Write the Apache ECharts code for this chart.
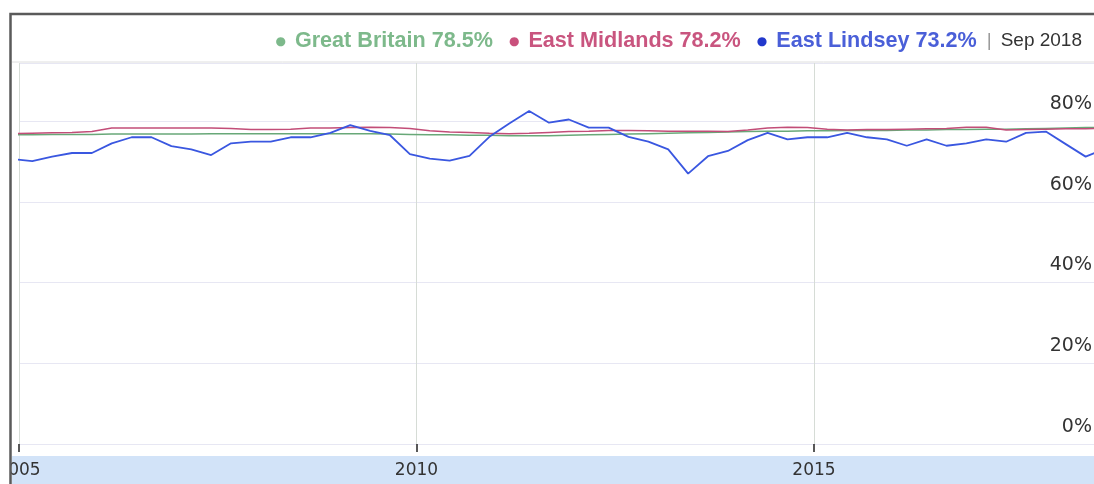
<!DOCTYPE html>
<html><head><meta charset="utf-8">
<script src="https://cdn.jsdelivr.net/npm/echarts@6/dist/echarts.min.js"></script>
<style>html,body{margin:0;padding:0;background:#fff}#c{width:1094px;height:484px}</style>
</head><body><div id="c"></div>
<script>
const quarters = [
  'Dec 2004',
  'Mar 2005','Jun 2005','Sep 2005','Dec 2005',
  'Mar 2006','Jun 2006','Sep 2006','Dec 2006',
  'Mar 2007','Jun 2007','Sep 2007','Dec 2007',
  'Mar 2008','Jun 2008','Sep 2008','Dec 2008',
  'Mar 2009','Jun 2009','Sep 2009','Dec 2009',
  'Mar 2010','Jun 2010','Sep 2010','Dec 2010',
  'Mar 2011','Jun 2011','Sep 2011','Dec 2011',
  'Mar 2012','Jun 2012','Sep 2012','Dec 2012',
  'Mar 2013','Jun 2013','Sep 2013','Dec 2013',
  'Mar 2014','Jun 2014','Sep 2014','Dec 2014',
  'Mar 2015','Jun 2015','Sep 2015','Dec 2015',
  'Mar 2016','Jun 2016','Sep 2016','Dec 2016',
  'Mar 2017','Jun 2017','Sep 2017','Dec 2017',
  'Mar 2018','Jun 2018','Sep 2018'
];
const seriesNames = ['Great Britain', 'East Midlands', 'East Lindsey'];
const gbValues = [
  76.6,76.6,76.7,76.7,76.7,76.8,76.8,76.8,76.8,76.8,
  76.9,76.9,76.9,76.9,76.9,76.9,76.9,76.9,76.9,76.8,
  76.7,76.6,76.6,76.5,76.5,76.4,76.4,76.4,76.5,76.6,
  76.7,76.8,76.9,77.0,77.1,77.2,77.3,77.4,77.5,77.5,
  77.6,77.6,77.7,77.7,77.7,77.8,77.8,77.9,77.9,78.0,
  78.0,78.1,78.2,78.3,78.4,78.5
];
const emValues = [
  76.9,77.0,77.1,77.2,77.4,78.3,78.3,78.3,78.3,78.3,
  78.3,78.2,77.9,77.9,78.0,78.3,78.3,78.4,78.5,78.4,
  78.2,77.6,77.3,77.2,77.0,76.9,77.0,77.2,77.4,77.5,
  77.7,77.7,77.6,77.5,77.5,77.5,77.4,77.8,78.3,78.5,
  78.4,78.0,77.8,77.9,77.9,78.0,78.1,78.2,78.5,78.5,
  77.8,77.9,78.0,78.1,78.1,78.2
];
const elValues = [
  70.6,70.1,71.2,72.1,72.1,74.5,76.0,76.0,73.8,73.0,
  71.6,74.5,74.9,74.9,76.0,76.0,77.1,79.0,77.6,76.5,
  71.8,70.7,70.2,71.4,76.1,79.4,82.5,79.6,80.4,78.4,
  78.4,76.1,74.9,73.0,67.0,71.3,72.6,75.3,77.1,75.5,
  76.0,76.0,77.1,76.0,75.5,73.9,75.5,73.9,74.5,75.5,
  74.9,77.1,77.4,74.3,71.2,73.2
];
const yTickValues = [0, 20, 40, 60, 80];
const xTickYears = [2005, 2010, 2015];
const latestLabel = 'Sep 2018';

const monthIdx = {Jan:0,Feb:1,Mar:2,Apr:3,May:4,Jun:5,Jul:6,Aug:7,Sep:8,Oct:9,Nov:10,Dec:11};
const xs = quarters.map(q => { const p = q.split(' '); return +p[1] + monthIdx[p[0]] / 12; });
const pair = vals => vals.map((v, i) => [xs[i], v]);

const lineColors = ['#68a878', '#c24d78', '#3a57e0'];
const textColors = ['#7db98b', '#c9557f', '#4a5fd8'];
const dotColors  = ['#7db98b', '#c9507c', '#2238cc'];
const allVals = [gbValues, emValues, elValues];

const rich = {
  bar: {color: '#9a9a9a', fontSize: 19, fontWeight: 'normal', fontFamily: 'Liberation Sans, Arial', padding: [0, 9, 0, 10]},
  date: {color: '#333', fontSize: 19, fontWeight: 'normal', fontFamily: 'Liberation Sans, Arial'}
};
let headText = '';
seriesNames.forEach((n, i) => {
  const last = allVals[i][allVals[i].length - 1];
  rich['d' + i] = {color: dotColors[i], fontSize: 12, fontWeight: 'normal', fontFamily: 'DejaVu Sans', padding: [2, 9, 0, i === 0 ? 0 : 16]};
  rich['t' + i] = {color: textColors[i], fontSize: 21.6, fontWeight: 'bold', fontFamily: 'Liberation Sans, Arial'};
  headText += '{d' + i + '|●}{t' + i + '|' + n + ' ' + last.toFixed(1) + '%}';
});
headText += '{bar||}{date|' + latestLabel + '}';

const chart = echarts.init(document.getElementById('c'), null, {renderer: 'canvas'});
chart.setOption({
  animation: false,
  backgroundColor: '#fff',
  title: {right: 12, top: 30, padding: 0, text: headText, textStyle: {rich: rich}},
  grid: {left: 19, top: 63, width: 1086.5, height: 381, containLabel: false, outerBoundsMode: 'none'},
  xAxis: {
    type: 'value', min: 2005, max: xs[xs.length - 1], interval: 5, offset: 3,
    axisLine: {show: false},
    axisTick: {show: true, length: 8, lineStyle: {color: '#222', width: 1.5}},
    axisLabel: {
      margin: 15, fontSize: 17, fontFamily: 'DejaVu Sans', color: '#333',
      formatter: v => xTickYears.indexOf(Math.round(v * 1000) / 1000) >= 0 ? String(Math.round(v)) : ''
    },
    splitLine: {show: true, lineStyle: {color: '#d6dcd6', width: 1}}
  },
  yAxis: {
    type: 'value', min: 0, max: 94.4, interval: 20, position: 'right',
    axisLine: {show: false}, axisTick: {show: false},
    axisLabel: {
      inside: true, margin: 13.5, fontSize: 19, fontFamily: 'DejaVu Sans', color: '#333',
      verticalAlign: 'bottom', lineHeight: 34,
      formatter: v => yTickValues.indexOf(v) >= 0 ? v + '%' : ''
    },
    splitLine: {lineStyle: {color: '#e7e7f3', width: 1}}
  },
  series: seriesNames.map((n, i) => ({
    name: n, type: 'line', data: pair(allVals[i]), symbol: 'none', showSymbol: false,
    clip: false, z: 2 + i,
    lineStyle: {color: lineColors[i], width: i === 2 ? 1.8 : 1.5}
  })),
  graphic: [
    {type: 'rect', z: -1, shape: {x: 12, y: 456, width: 1082, height: 28}, style: {fill: '#d2e3f8'}},
    {type: 'line', z: 50, shape: {x1: 12, y1: 62, x2: 1094, y2: 62}, style: {stroke: '#dedede', lineWidth: 1}},
    {type: 'rect', z: 99, shape: {x: 0, y: 0, width: 10, height: 484}, style: {fill: '#fff'}},
    {type: 'polyline', z: 100, shape: {points: [[10.5, 484], [10.5, 14], [1094, 14]]}, style: {stroke: '#5a5a5a', lineWidth: 2.5, fill: null}}
  ]
});
</script>
</body></html>
